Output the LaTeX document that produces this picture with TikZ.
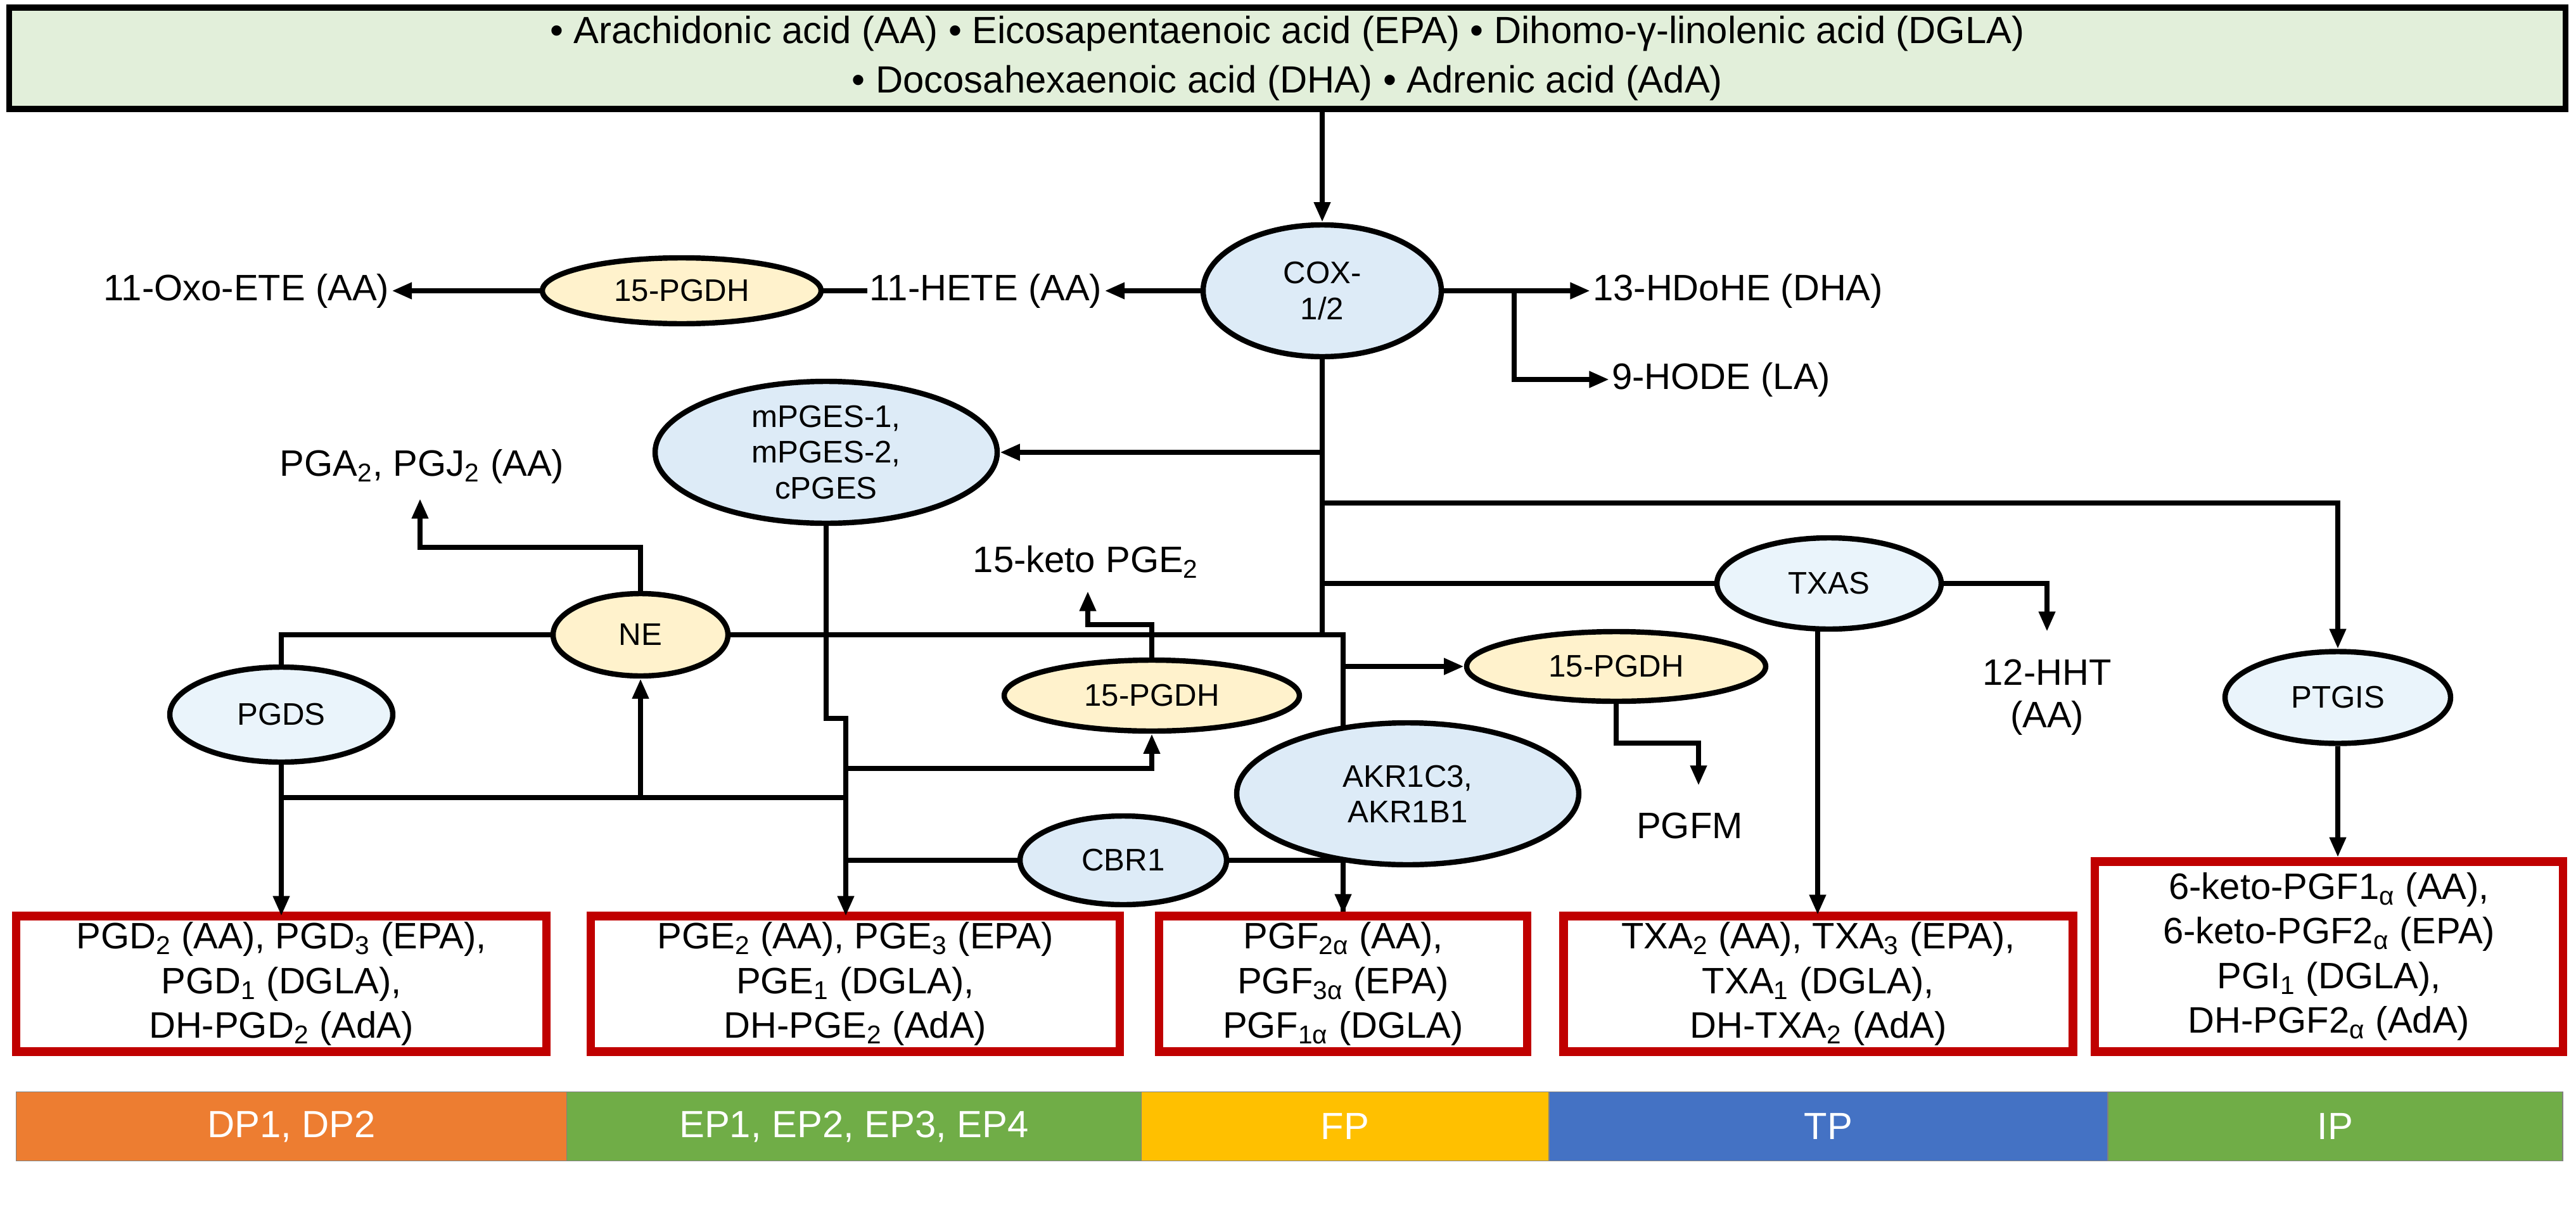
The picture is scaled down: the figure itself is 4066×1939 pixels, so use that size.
\documentclass[tikz,border=0pt]{standalone}
\usepackage{fontspec}
\setmainfont{Liberation Sans}
\usetikzlibrary{shapes.geometric,arrows.meta}
\definecolor{topg}{HTML}{E2EFDA}
\definecolor{eb}{HTML}{DDEBF7}
\definecolor{el}{HTML}{EAF4FB}
\definecolor{ey}{HTML}{FFF2CC}
\definecolor{bred}{HTML}{C00000}
\begin{document}
\begin{tikzpicture}[x=0.01cm,y=-0.01cm,
  ln/.style={line width=2.3pt},
  ar/.style={ln,-{Triangle[length=9pt,width=7pt]}},
  sz/.style 2 args={minimum width=#1*0.01cm,minimum height=#2*0.01cm},
  enz/.style={ellipse,draw,line width=2.4pt,fill=eb,inner sep=0pt,font=\fontsize{14}{16}\selectfont,align=center},
  lab/.style={font=\fontsize{16.5}{19}\selectfont,align=center,inner sep=1pt},
  box/.style={draw=bred,line width=3.8pt,fill=white,font=\fontsize{16.5}{20}\selectfont,align=center,inner sep=0pt},
  bar/.style={draw=black!50,line width=0.5pt,text=white,font=\fontsize{17}{19}\selectfont,inner sep=0pt}]
\useasboundingbox (0,0) rectangle (4066,1939);
% top box
\node[draw,line width=2.8pt,fill=topg,sz={4035}{160},inner sep=0pt,font=\fontsize{17}{22}\selectfont,align=center] (top) at (2032,92)
 {• Arachidonic acid (AA) • Eicosapentaenoic acid (EPA) • Dihomo-γ-linolenic acid (DGLA)\\• Docosahexaenoic acid (DHA) • Adrenic acid (AdA)};
% coordinates
\coordinate (t1) at (2087,714);
\coordinate (t2) at (2087,794);
\coordinate (t3) at (2087,921);
\coordinate (t4) at (2087,1002);
\coordinate (h1) at (2390,459);
\coordinate (h2) at (2120,1002);
\coordinate (h3) at (2120,1052);
% lines drawn below ellipses
\draw[ln] (t4) -- (h2) -- (2120,1443);
\draw[ar] (2120,1300) -- (2120,1443);
% ellipses
\node[enz,sz={376}{208}] (cox) at (2087,459) {COX-\\1/2};
\node[enz,sz={540}{224}] (mpges) at (1304,714) {mPGES-1,\\mPGES-2,\\cPGES};
\node[enz,fill=el,sz={352}{150}] (pgds) at (444,1128) {PGDS};
\node[enz,fill=ey,sz={276}{130}] (ne) at (1011,1002) {NE};
\node[enz,fill=ey,sz={440}{104}] (pgdh1) at (1076,459) {15-PGDH};
\node[enz,fill=ey,sz={466}{112}] (pgdh2) at (1818,1098) {15-PGDH};
\node[enz,fill=ey,sz={472}{110}] (pgdh3) at (2551,1052) {15-PGDH};
\node[enz,sz={540}{224}] (akr) at (2222,1253) {AKR1C3,\\AKR1B1};
\node[enz,sz={326}{140}] (cbr) at (1773,1358) {CBR1};
\node[enz,fill=el,sz={354}{144}] (txas) at (2887,921) {TXAS};
\node[enz,fill=el,sz={356}{145}] (ptgis) at (3690,1101) {PTGIS};
% labels
\node[lab] (hete) at (1556,459) {11-HETE (AA)};
\node[lab] (oxo) at (389,459) {11-Oxo-ETE (AA)};
\node[lab,anchor=west] (hdohe) at (2510,459) {13-HDoHE (DHA)};
\node[lab,anchor=west] (hode) at (2540,599) {9-HODE (LA)};
\node[lab] (pga) at (666,736) {PGA\textsubscript{2}, PGJ\textsubscript{2} (AA)};
\node[lab] (keto) at (1714,887) {15-keto PGE\textsubscript{2}};
\node[lab] (hht) at (3231,1101) {12-HHT\\(AA)};
\node[lab] (pgfm) at (2667,1304) {PGFM};
% boxes
\node[box,sz={837}{214}] (dp) at (444,1553) {PGD\textsubscript{2} (AA), PGD\textsubscript{3} (EPA),\\PGD\textsubscript{1} (DGLA),\\DH-PGD\textsubscript{2} (AdA)};
\node[box,sz={835}{214}] (ep) at (1350,1553) {PGE\textsubscript{2} (AA), PGE\textsubscript{3} (EPA)\\PGE\textsubscript{1} (DGLA),\\DH-PGE\textsubscript{2} (AdA)};
\node[box,sz={581}{214}] (fp) at (2120,1553) {PGF\textsubscript{2α} (AA),\\PGF\textsubscript{3α} (EPA)\\PGF\textsubscript{1α} (DGLA)};
\node[box,sz={804}{214}] (tp) at (2870,1553) {TXA\textsubscript{2} (AA), TXA\textsubscript{3} (EPA),\\TXA\textsubscript{1} (DGLA),\\DH-TXA\textsubscript{2} (AdA)};
\node[box,sz={739}{300}] (ip) at (3676,1510) {6-keto-PGF1\textsubscript{α} (AA),\\6-keto-PGF2\textsubscript{α} (EPA)\\PGI\textsubscript{1} (DGLA),\\DH-PGF2\textsubscript{α} (AdA)};
% bar
\node[bar,fill={rgb,255:red,237;green,125;blue,49},sz={869}{109}] (b1) at (460,1778) {DP1, DP2};
\node[bar,fill={rgb,255:red,112;green,173;blue,71},sz={907}{109}] (b2) at (1348,1778) {EP1, EP2, EP3, EP4};
\node[bar,fill={rgb,255:red,255;green,192;blue,0},sz={643}{109}] (b3) at (2123,1778) {FP};
\node[bar,fill={rgb,255:red,68;green,114;blue,196},sz={882}{109}] (b4) at (2886,1778) {TP};
\node[bar,fill={rgb,255:red,112;green,173;blue,71},sz={718}{109}] (b5) at (3686,1778) {IP};
% connectors
\draw[ar] (top.south -| cox.north) -- (cox.north);
\draw[ar] (cox.west) -- (hete.east);
\draw[ln] (hete.west) -- (pgdh1.east);
\draw[ar] (pgdh1.west) -- (oxo.east);
\draw[ln] (cox.east) -- (h1);
\draw[ar] (h1) -- (hdohe.west);
\draw[ar] (h1) |- (hode.west);
\draw[ln] (cox.south) -- (t4);
\draw[ar] (t1) -- (mpges.east);
\draw[ar] (t2) -| (ptgis.north);
\draw[ln] (t3) -- (txas.west);
\draw[ar] (txas.east) -| (3231,997);
\draw[ar] (2869,993) -- (2869,1444);
\draw[ar] (ptgis.south) -- (ptgis.south |- ip.north);
\draw[ln] (pgds.north) |- (ne.west);
\draw[ln] (ne.east) -- (t4);
\draw[ar] (ne.north) |- (663,864) -- (663,787);
\draw[ar] (h3) -- (pgdh3.west);
\draw[ar] (pgdh3.south) |- (2681,1173) -- (2681,1240);
\draw[ar] (mpges.south) -- (1304,1134) -- (1335,1134) -- (1335,1446);
\draw[ar] (1335,1213) -| (pgdh2.south);
\draw[ar] (pgdh2.north) |- (1717,986) -- (1717,933);
\draw[ln] (pgds.south) |- (1335,1259);
\draw[ar] (1011,1259) -- (ne.south);
\draw[ar] (pgds.south) -- (444,1446);
\draw[ln] (1335,1358) -- (cbr.west);
\draw[ln] (cbr.east) -- (2120,1358);
\end{tikzpicture}
\end{document}
